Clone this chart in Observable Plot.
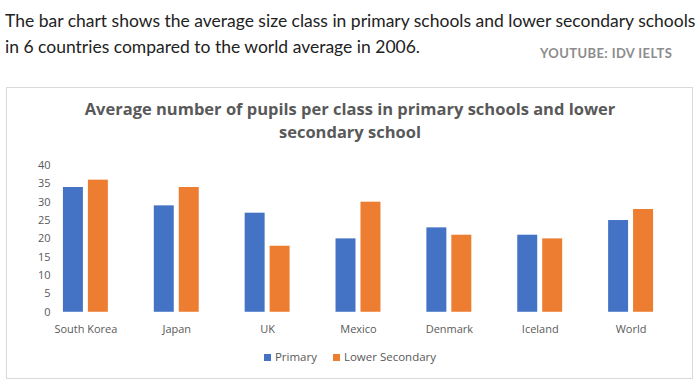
<!DOCTYPE html>
<html><head><meta charset="utf-8">
<script src="https://cdn.jsdelivr.net/npm/d3@7"></script>
<script src="https://cdn.jsdelivr.net/npm/@observablehq/plot@0.6"></script>
<style>
body{margin:0;background:#fff;width:699px;height:383px;overflow:hidden;position:relative;font-family:Lato,"Open Sans",sans-serif;}
#intro{position:absolute;left:5px;top:8px;font-size:17.5px;line-height:26px;color:#222;white-space:nowrap;}
#yt{position:absolute;left:540px;top:45px;font-size:13px;font-weight:bold;color:#8c8c8c;letter-spacing:0.4px;}
#box{position:absolute;left:6px;top:87px;width:685px;height:290px;border:1px solid #d9d9d9;}
#title{position:absolute;left:0;top:9px;width:686px;text-align:center;font-size:16.5px;line-height:23px;font-weight:bold;color:#595959;font-family:"Open Sans",sans-serif;}
#chart{position:absolute;left:0;top:67px;}
#legend{position:absolute;left:0;top:261px;width:686px;text-align:center;font-size:11.5px;color:#595959;font-family:"Open Sans",sans-serif;}
#legend span.sw{display:inline-block;width:7px;height:7px;margin-right:4px;vertical-align:0px;}
#legend span.it{margin:0 8px;}
</style></head><body>
<div id="intro">The bar chart shows the average size class in primary schools and lower secondary schools<br>in 6 countries compared to the world average in 2006.</div>
<div id="yt">YOUTUBE: IDV IELTS</div>
<div id="box">
<div id="title">Average number of pupils per class in primary schools and lower<br>secondary school</div>
<div id="chart"></div>
<div id="legend"></div>
</div>
<script>
const countries = ["South Korea","Japan","UK","Mexico","Denmark","Iceland","World"];
const series = ["Primary","Lower Secondary"];
const primary = [34,29,27,20,23,21,25];
const lowerSecondary = [36,34,18,30,21,20,28];
const yTicks = [0,5,10,15,20,25,30,35,40];
const colors = ["#4472C4","#ED7D31"];

const data = [];
countries.forEach((c,i)=>{
  data.push({country:c, series:series[0], value:primary[i]});
  data.push({country:c, series:series[1], value:lowerSecondary[i]});
});

const plot = Plot.plot({
  width: 686,
  height: 190,
  marginTop: 10,
  marginBottom: 33,
  marginLeft: 33,
  marginRight: 15,
  style: {fontFamily: "'Open Sans', sans-serif", fontSize: "11px", color: "#595959", background: "transparent"},
  fx: {domain: countries, paddingInner: 0.48, paddingOuter: 0.24, label: null},
  x: {domain: series, paddingInner: 0.19, paddingOuter: 0, axis: null},
  y: {domain: [0,40], ticks: yTicks, label: null},
  color: {domain: series, range: colors},
  marks: [
    Plot.gridY(yTicks, {stroke: "#d9d9d9", strokeOpacity: 1, facetAnchor: null, x1: 0}),
    Plot.axisY(yTicks, {tickSize: 0, tickPadding: 12, label: null, anchor: "left"}),
    Plot.axisFx({tickSize: 0, tickPadding: 13, label: null, anchor: "bottom"}),
    Plot.barY(data, {fx: "country", x: "series", y: "value", fill: "series"})
  ]
});
document.getElementById("chart").appendChild(plot);

const lg = document.getElementById("legend");
series.forEach((s,i)=>{
  const it = document.createElement("span");
  it.className = "it";
  it.innerHTML = `<span class="sw" style="background:${colors[i]}"></span>${s}`;
  lg.appendChild(it);
});
</script>
</body></html>
